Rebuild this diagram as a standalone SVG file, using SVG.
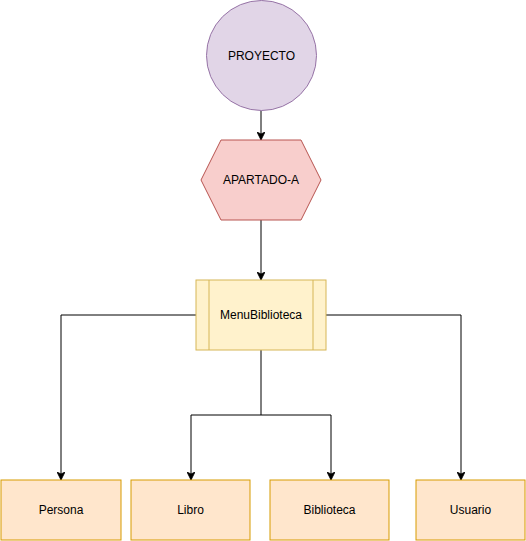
<svg xmlns="http://www.w3.org/2000/svg" width="526" height="541" viewBox="0 0 526 541">
<style>
text{font-family:"Liberation Sans",Arial,sans-serif;font-size:12px;fill:#000;text-anchor:middle;dominant-baseline:central}
.edge{fill:none;stroke:#000;stroke-width:1}
.leaf{fill:#ffe6cc;stroke:#d79b00;stroke-width:1}
</style>
<defs>
<marker id="arr" viewBox="0 0 10 10" refX="10" refY="5" markerWidth="8" markerHeight="8" markerUnits="userSpaceOnUse" orient="auto">
<path d="M0,0 L10,5 L0,10 L2.5,5 Z" fill="#000" stroke="#000" stroke-width="1"/>
</marker>
</defs>
<rect width="526" height="541" fill="#fff"/>
<g id="connectors">
<path class="edge" d="M261,110.5 V140" marker-end="url(#arr)"/>
<path class="edge" d="M261,220 V280" marker-end="url(#arr)"/>
<path class="edge" d="M196,315 H61 V480" marker-end="url(#arr)"/>
<path class="edge" d="M326,315 H461 V480" marker-end="url(#arr)"/>
<path class="edge" d="M261,350 V415 H191 V480" marker-end="url(#arr)"/>
<path class="edge" d="M261,415 H331 V480" marker-end="url(#arr)"/>
</g>
<g id="proyecto">
<circle cx="261.5" cy="55.5" r="55" fill="#e1d5e7" stroke="#9673a6"/>
<text x="261.5" y="55.5">PROYECTO</text>
</g>
<g id="apartado-a">
<polygon points="201,180 221,140 301,140 321,180 301,220 221,220" fill="#f8cecc" stroke="#b85450"/>
<text x="261" y="180">APARTADO-A</text>
</g>
<g id="menubiblioteca">
<rect x="196" y="280" width="130" height="70" fill="#fff2cc" stroke="#d6b656"/>
<line x1="209" y1="280" x2="209" y2="350" stroke="#d6b656"/>
<line x1="313" y1="280" x2="313" y2="350" stroke="#d6b656"/>
<text x="261" y="315">MenuBiblioteca</text>
</g>
<g id="persona">
<rect class="leaf" x="1" y="480" width="120" height="60"/>
<text x="61" y="510">Persona</text>
</g>
<g id="libro">
<rect class="leaf" x="131" y="480" width="119" height="60"/>
<text x="190.5" y="510">Libro</text>
</g>
<g id="biblioteca">
<rect class="leaf" x="270" y="480" width="119" height="60"/>
<text x="329.5" y="510">Biblioteca</text>
</g>
<g id="usuario">
<rect class="leaf" x="416" y="480" width="109" height="60"/>
<text x="470.5" y="510">Usuario</text>
</g>
</svg>
